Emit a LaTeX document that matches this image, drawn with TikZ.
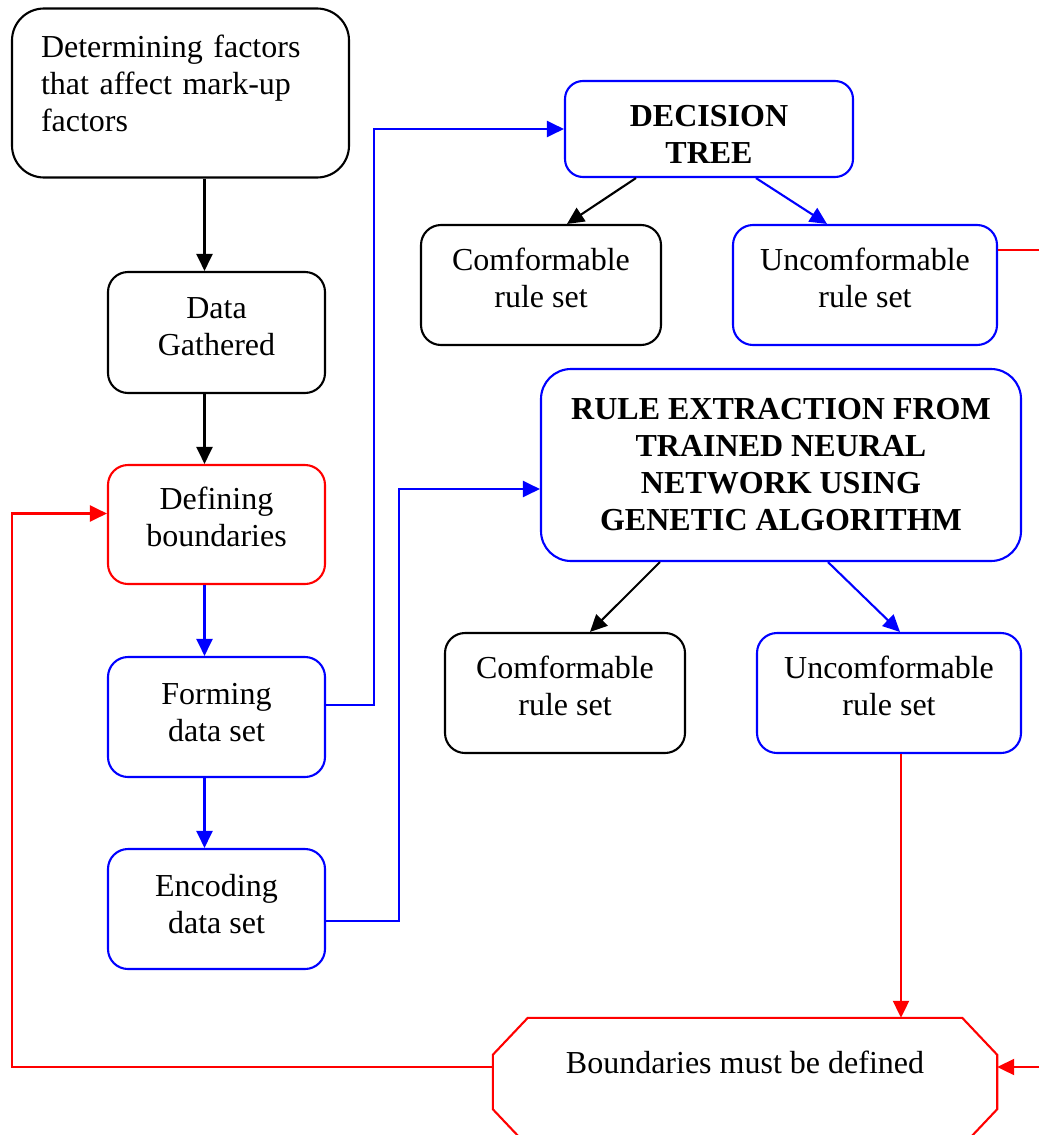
\documentclass[tikz,border=0pt]{standalone}
\usepackage{fontspec}
\setmainfont{Liberation Serif}
\usetikzlibrary{arrows.meta,calc}
\definecolor{pureblue}{RGB}{0,0,255}
\definecolor{purered}{RGB}{255,0,0}
% invisible struts that pad a text block below or above
\newcommand\padbelow[1]{\rule[-#1]{0pt}{0pt}}
\newcommand\padabove[1]{\rule{0pt}{#1}}
\begin{document}
\begin{tikzpicture}[x=1pt,y=-1pt,
  every node/.style={font=\fontsize{32pt}{37pt}\selectfont, inner sep=0pt},
  box/.style={draw, rounded corners=20pt, align=center, line width=2.1pt},
  small/.style={box, minimum width=217pt, minimum height=120pt},
  rulebox/.style={box, minimum width=240pt, minimum height=120pt},
  widebox/.style={box, minimum width=264pt, minimum height=120pt},
  wire/.style={line width=2.1pt},
  link/.style={wire, -{Triangle[length=17pt,width=16pt]}},
]
\useasboundingbox (0,0) rectangle (1039,1135);
\clip (0,0) rectangle (1039,1135);

% left column
\node[box, rounded corners=32pt, minimum width=337pt, minimum height=169pt,
      text width=279pt, align=left] (factors) at (180.5,93)
      {Determining factors\\that affect mark-up\\factors\padbelow{20pt}};
\node[small, minimum height=121pt] (data) at (216.5,332.5) {Data\\Gathered\padbelow{12pt}};
\node[small, draw=purered, minimum height=119pt] (def) at (216.5,524.5) {Defining\\boundaries\padbelow{15pt}};
\node[small, draw=pureblue] (form) at (216.5,717) {Forming\\data set\padbelow{9pt}};
\node[small, draw=pureblue] (enc) at (216.5,909) {Encoding\\data set\padbelow{11pt}};

% decision tree branch
\node[box, draw=pureblue, rounded corners=18pt, minimum width=288pt, minimum height=96pt,
      font=\fontsize{32pt}{37pt}\selectfont\bfseries] (dt) at (709,129)
      {\padabove{31pt}DECISION\\TREE};
\node[rulebox] (cf1) at (541,285) {Comformable\\rule set\padbelow{14pt}};
\node[widebox, draw=pureblue] (uc1) at (865,285) {Uncomformable\\rule set\padbelow{14pt}};

% neural network branch
\node[box, draw=pureblue, rounded corners=30pt, minimum width=480pt, minimum height=192pt,
      font=\fontsize{32pt}{37pt}\selectfont\bfseries] (rx) at (781,465)
      {RULE EXTRACTION FROM\\TRAINED NEURAL\\NETWORK USING\\GENETIC ALGORITHM};
\node[rulebox] (cf2) at (565,693) {Comformable\\rule set\padbelow{15pt}};
\node[widebox, draw=pureblue] (uc2) at (889,693) {Uncomformable\\rule set\padbelow{15pt}};

% octagonal terminal box
\node[minimum width=504pt, minimum height=128pt] (bnd) at (745,1082) {};
\node (bndtext) at (745,1062) {Boundaries must be defined};
\draw[wire, purered]
  ($(bnd.north west)+(35,0)$) -- ($(bnd.north east)+(-35,0)$)
  -- ($(bnd.north east)+(0,37)$) -- ($(bnd.south east)+(0,-37)$)
  -- ($(bnd.south east)+(-35,0)$) -- ($(bnd.south west)+(35,0)$)
  -- ($(bnd.south west)+(0,-37)$) -- ($(bnd.north west)+(0,37)$) -- cycle;

% main column arrows
\draw[link] ($(factors.south)+(24,0)$) -- ($(data.north)+(-12,0)$);
\draw[link] ($(data.south)+(-12,0)$) -- ($(def.north)+(-12,0)$);
\draw[link, pureblue] ($(def.south)+(-12,0)$) -- ($(form.north)+(-12,0)$);
\draw[link, pureblue] ($(form.south)+(-12,0)$) -- ($(enc.north)+(-12,0)$);

% feeds into the two rule extraction methods
\draw[link, pureblue] ($(form.east)+(0,-12)$) -- ++(48,0) |- (dt.west);
\draw[link, pureblue] ($(enc.east)+(0,12)$) -- ++(73,0) |- ($(rx.west)+(0,24)$);

% split into rule sets
\draw[link] ($(dt.south west)+(72,0)$) -- ($(cf1.north)+(26,0)$);
\draw[link, pureblue] ($(dt.south west)+(192,0)$) -- ($(uc1.north)+(-38,0)$);
\draw[link] ($(rx.south west)+(120,0)$) -- ($(cf2.north)+(25,0)$);
\draw[link, pureblue] ($(rx.south west)+(288,0)$) -- ($(uc2.north)+(11,0)$);

% feedback loops
\coordinate (edgeA) at (1039,250);
\coordinate (edgeB) at (1039,1067);
\coordinate (drop) at ($(uc2.south)+(12,0)$);
\draw[wire, purered] ($(uc1.east)+(0,-35)$) -- (edgeA);
\draw[link, purered] (edgeB) -- ($(bnd.east)+(0,-15)$);
\draw[link, purered] (drop) -- (drop |- bnd.north);
\draw[link, purered] ($(bnd.west)+(0,-15)$) -- (12,1067) |- ($(def.west)+(0,-11)$);
\end{tikzpicture}
\end{document}
